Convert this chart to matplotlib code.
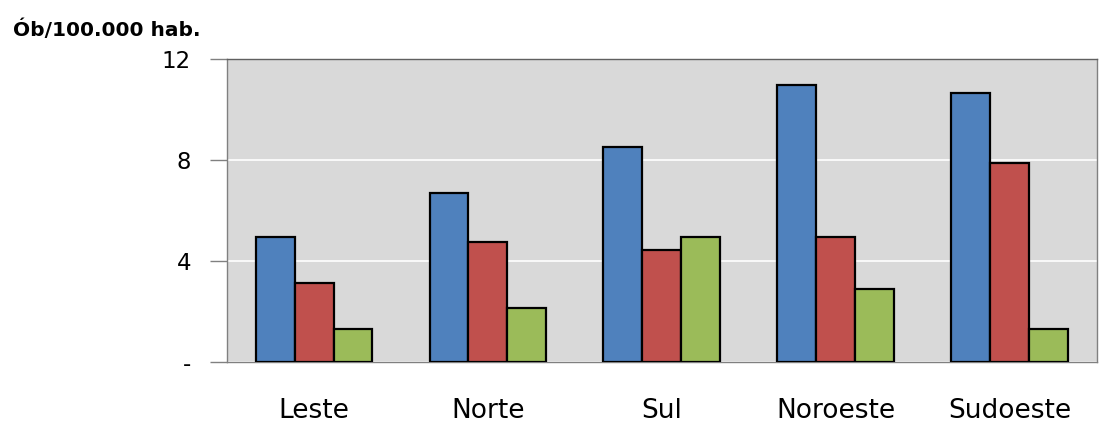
import matplotlib
matplotlib.use("Agg")
import matplotlib.pyplot as plt
import numpy as np

# Mortality rate per region (deaths per 100,000 inhabitants), three series
regions = ["Leste", "Norte", "Sul", "Noroeste", "Sudoeste"]
series_a = [4.95, 6.7, 8.5, 10.95, 10.65]
series_b = [3.15, 4.75, 4.45, 4.95, 7.9]
series_c = [1.3, 2.15, 4.95, 2.9, 1.3]
y_ticks = [0, 4, 8, 12]
y_tick_labels = ["-", "4", "8", "12"]

colors = ["#4F81BD", "#C0504D", "#9BBB59"]

plt.rcParams["font.family"] = ["DejaVu Sans"]

fig = plt.figure(figsize=(10.99, 4.24), dpi=100)
ax = fig.add_axes([0.2066, 0.146, 0.7914, 0.715])
ax.set_facecolor("#D9D9D9")

x = np.arange(len(regions))
w = 0.224
for i, (vals, c) in enumerate(zip([series_a, series_b, series_c], colors)):
    ax.bar(x + (i - 1) * w, vals, width=w, color=c, edgecolor="black",
           linewidth=1.6, zorder=3)

ax.set_xlim(-0.5, len(regions) - 0.5)
ax.set_ylim(0, 12)
ax.set_yticks(y_ticks)
ax.set_yticklabels(y_tick_labels, fontsize=16.5)
ax.set_xticks(x)
ax.set_xticklabels(regions, fontsize=19)
ax.tick_params(axis="x", length=0, pad=26)
ax.tick_params(axis="y", length=12, width=1, color="#808080", pad=14)

ax.yaxis.grid(True, color="white", linewidth=1.2, zorder=1)
ax.set_axisbelow(True)

for side in ["left", "bottom", "top", "right"]:
    ax.spines[side].set_color("#808080")
    ax.spines[side].set_linewidth(1.0)
ax.spines["top"].set_color("#606060")

fig.text(0.012, 0.916, "Ób/100.000 hab.", fontsize=14.5, fontweight="bold",
         ha="left", va="baseline")

fig.savefig("out.png", dpi=100)
